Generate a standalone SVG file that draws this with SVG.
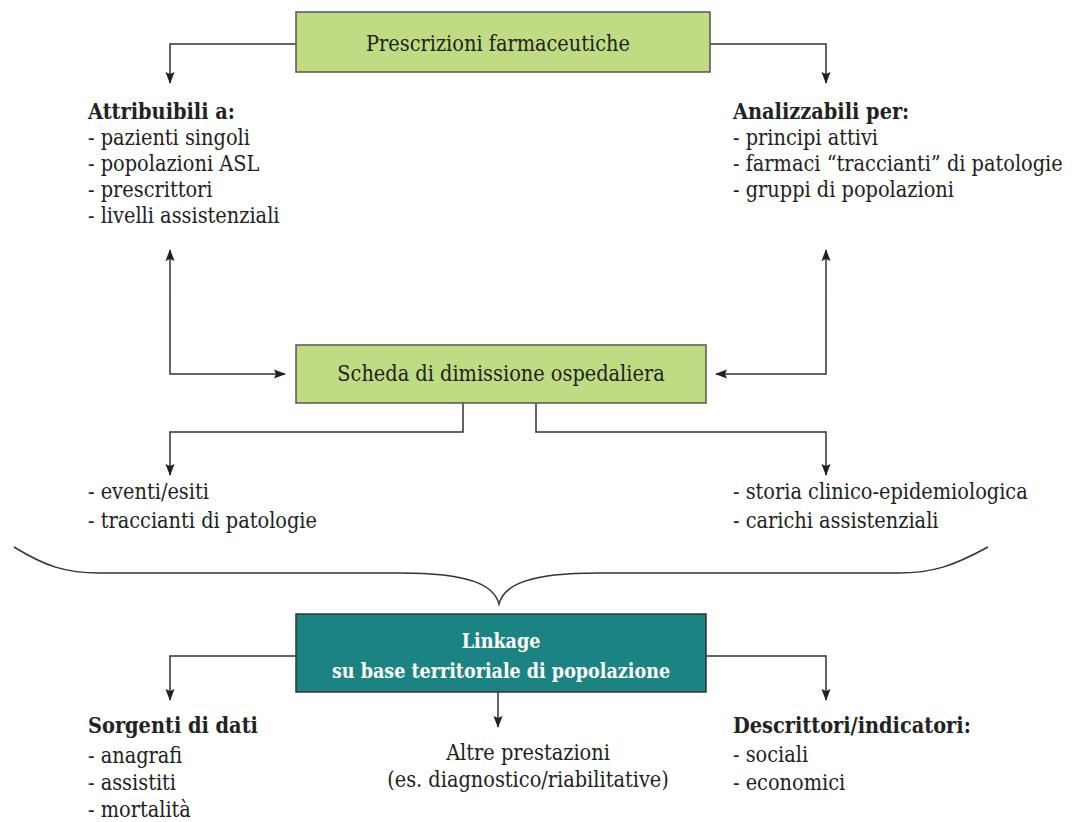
<svg xmlns="http://www.w3.org/2000/svg" width="1083" height="822" viewBox="0 0 1083 822">
<defs>
<marker id="ah" markerWidth="12" markerHeight="10" refX="11" refY="5" orient="auto" markerUnits="userSpaceOnUse">
<path d="M0,0.5 L12,5 L0,9.5 L2,5 Z" fill="#222"/>
</marker>
<style>
text{font-family:"DejaVu Serif Condensed","DejaVu Serif",serif;font-stretch:condensed;font-size:21.5px;fill:#222}
.b{font-weight:bold}
.c{text-anchor:middle}
.w{fill:#fff;font-weight:bold;font-size:19.5px}
.g{fill:#bfdc83;stroke:#555;stroke-width:1.5}
.t{fill:#1b8482;stroke:#333;stroke-width:1.5}
.ln{fill:none;stroke:#333;stroke-width:1.5}
.ar{fill:none;stroke:#333;stroke-width:1.5;marker-end:url(#ah)}
</style>
</defs>
<rect width="1083" height="822" fill="#fff"/>
<g id="connectors">
<path class="ar" d="M296,44 H170 V83"/>
<path class="ar" d="M710,44 H826 V83"/>
<path class="ar" d="M170,300 V250"/>
<path class="ar" d="M170,300 V374 H285"/>
<path class="ar" d="M826,300 V250"/>
<path class="ar" d="M826,300 V374 H716"/>
<path class="ar" d="M463,403 V432 H170 V475"/>
<path class="ar" d="M536,403 V432 H826 V475"/>
<path class="ln" d="M14,547 C45,566 65,573 100,573 H400 C470,573 494,585 499,604 C504,585 528,573 598,573 H898 C933,573 953,566 988,547"/>
<path class="ar" d="M296,656 H170 V700"/>
<path class="ar" d="M706,656 H826 V700"/>
<path class="ar" d="M498,692 V727"/>
</g>
<g id="n-prescrizioni">
<rect class="g" x="296" y="12" width="414" height="60"/>
<text class="c" x="498" y="51">Prescrizioni farmaceutiche</text>
</g>
<g id="n-attribuibili">
<text class="b" x="88" y="119">Attribuibili a:</text>
<text x="88" y="145">- pazienti singoli</text>
<text x="88" y="171">- popolazioni ASL</text>
<text x="88" y="197">- prescrittori</text>
<text x="88" y="223">- livelli assistenziali</text>
</g>
<g id="n-analizzabili">
<text class="b" x="733" y="119">Analizzabili per:</text>
<text x="733" y="145">- principi attivi</text>
<text x="733" y="171">- farmaci “traccianti” di patologie</text>
<text x="733" y="197">- gruppi di popolazioni</text>
</g>
<g id="n-sdo">
<rect class="g" x="296" y="345" width="410" height="58"/>
<text class="c" x="501" y="381">Scheda di dimissione ospedaliera</text>
</g>
<g id="n-eventi">
<text x="88" y="499">- eventi/esiti</text>
<text x="88" y="528">- traccianti di patologie</text>
</g>
<g id="n-storia">
<text x="733" y="499">- storia clinico-epidemiologica</text>
<text x="733" y="528">- carichi assistenziali</text>
</g>
<g id="n-linkage">
<rect class="t" x="296" y="614" width="410" height="78"/>
<text class="c w" x="501" y="648">Linkage</text>
<text class="c w" x="501" y="678">su base territoriale di popolazione</text>
</g>
<g id="n-sorgenti">
<text class="b" x="88" y="733">Sorgenti di dati</text>
<text x="88" y="763">- anagrafi</text>
<text x="88" y="790">- assistiti</text>
<text x="88" y="817">- mortalità</text>
</g>
<g id="n-altre">
<text class="c" x="528" y="760">Altre prestazioni</text>
<text class="c" x="528" y="787">(es. diagnostico/riabilitative)</text>
</g>
<g id="n-descrittori">
<text class="b" x="733" y="733">Descrittori/indicatori:</text>
<text x="733" y="762">- sociali</text>
<text x="733" y="790">- economici</text>
</g>
</svg>
